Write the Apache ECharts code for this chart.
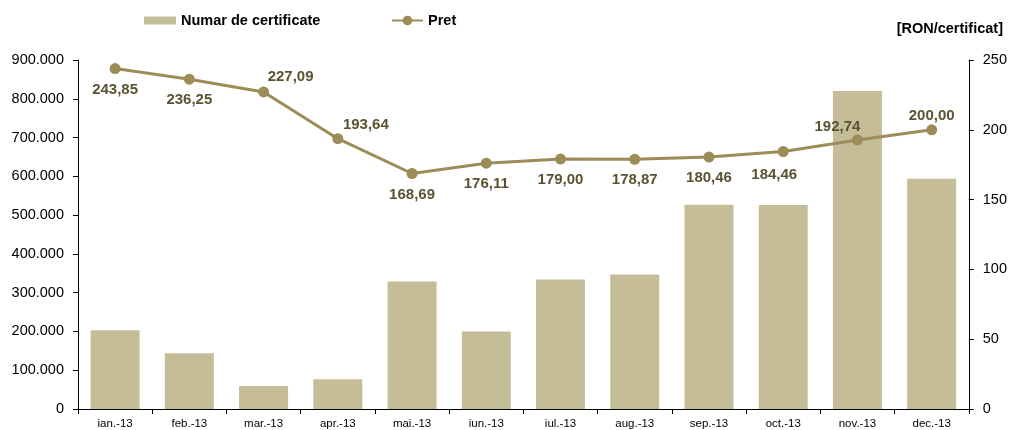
<!DOCTYPE html>
<html>
<head>
<meta charset="utf-8">
<script src="https://cdn.jsdelivr.net/npm/echarts@6/dist/echarts.min.js"></script>
<style>
  html, body { margin: 0; padding: 0; background: #fff; }
  #chart { width: 1010px; height: 430px; }
</style>
</head>
<body>
<div id="chart"></div>
<script>
// date
var luni = ['ian.-13', 'feb.-13', 'mar.-13', 'apr.-13', 'mai.-13', 'iun.-13',
            'iul.-13', 'aug.-13', 'sep.-13', 'oct.-13', 'nov.-13', 'dec.-13'];
var numarCertificate = [203000, 144000, 59000, 77000, 329000, 200000,
                        334000, 347000, 527000, 526000, 820000, 594000];
var pret = [243.85, 236.25, 227.09, 193.64, 168.69, 176.11,
            179.00, 178.87, 180.46, 184.46, 192.74, 200.00];

// pozitia etichetelor pe linie (offset fata de punct)
var offsetEtichete = [[0, 21], [0, 21], [27, -15], [28, -14], [0, 21], [0, 21],
                      [0, 21], [0, 21], [0, 21], [-9, 23], [-20, -13], [0, -14]];

var culoareBara = '#c5bd98';
var culoareLinie = '#9c8c57';
var culoareEticheta = '#5a5332';
var font = 'Liberation Sans, Arial, sans-serif';

var chart = echarts.init(document.getElementById('chart'));

function formatMii(v) {
  return String(v).replace(/\B(?=(\d{3})+(?!\d))/g, '.');
}

var textLegenda = { fontSize: 14.5, fontWeight: 'bold', color: '#000', fontFamily: font };

chart.setOption({
  animation: false,
  textStyle: { fontFamily: font },
  title: {
    text: '[RON/certificat]',
    right: 2,
    top: 16,
    textStyle: { fontSize: 14.5, fontWeight: 'bold', color: '#000', fontFamily: font }
  },
  legend: [
    {
      left: 139,
      top: 8,
      itemWidth: 32,
      itemHeight: 8,
      textStyle: textLegenda,
      data: [{ name: 'Numar de certificate', icon: 'rect' }]
    },
    {
      left: 386,
      top: 8,
      itemWidth: 31,
      itemHeight: 12,
      textStyle: textLegenda,
      data: [{ name: 'Pret' }]
    }
  ],
  grid: { left: 78, right: 37, top: 60, bottom: 20, containLabel: false },
  xAxis: {
    type: 'category',
    data: luni,
    axisLine: { lineStyle: { color: '#000', width: 1 } },
    axisTick: { show: true, length: 5, lineStyle: { color: '#000' } },
    axisLabel: { color: '#000', fontSize: 11.5, margin: 9, fontFamily: font }
  },
  yAxis: [
    {
      type: 'value',
      min: 0,
      max: 900000,
      interval: 100000,
      splitLine: { show: false },
      axisLine: { show: true, lineStyle: { color: '#000', width: 1 } },
      axisTick: { show: true, length: 5, lineStyle: { color: '#000' } },
      axisLabel: { color: '#000', fontSize: 14.5, margin: 14, fontFamily: font, formatter: formatMii }
    },
    {
      type: 'value',
      min: 0,
      max: 250,
      interval: 50,
      position: 'right',
      splitLine: { show: false },
      axisLine: { show: true, lineStyle: { color: '#000', width: 1 } },
      axisTick: { show: true, length: 5, lineStyle: { color: '#000' } },
      axisLabel: { color: '#000', fontSize: 14.5, margin: 14, fontFamily: font }
    }
  ],
  series: [
    {
      name: 'Numar de certificate',
      type: 'bar',
      yAxisIndex: 0,
      barCategoryGap: '34%',
      itemStyle: { color: culoareBara },
      data: numarCertificate
    },
    {
      name: 'Pret',
      type: 'line',
      yAxisIndex: 1,
      symbol: 'circle',
      symbolSize: 11,
      lineStyle: { color: culoareLinie, width: 3 },
      itemStyle: { color: culoareLinie },
      data: pret.map(function (v, i) {
        return {
          value: v,
          label: {
            show: true,
            position: 'inside',
            offset: offsetEtichete[i],
            formatter: function (p) { return p.value.toFixed(2).replace('.', ','); },
            color: culoareEticheta,
            fontSize: 15,
            fontWeight: 'bold',
            fontFamily: font
          }
        };
      })
    }
  ]
});
</script>
</body>
</html>
